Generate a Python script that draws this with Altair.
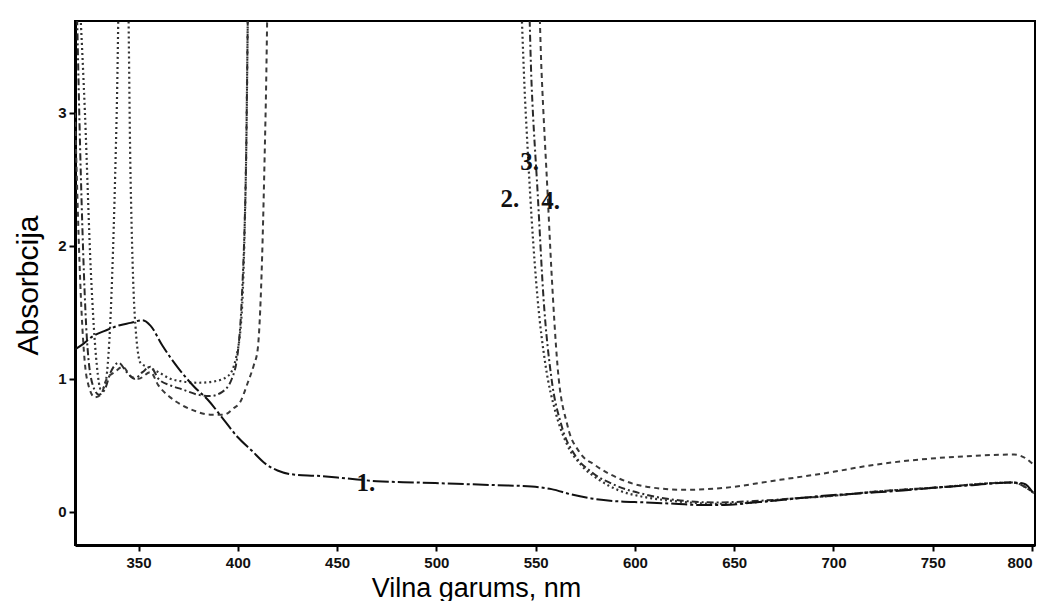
import altair as alt
import pandas as pd

# ---- data (wavelength nm, absorbance) ----
nm_1 = [318, 322, 327, 333, 340, 346, 352, 356, 362, 370, 378, 385, 392, 400, 407, 414, 420, 428,
        440, 455, 470, 490, 510, 530, 548, 558, 568, 578, 590, 605, 620, 635, 645, 660, 675, 695,
        715, 735, 750, 770, 790, 796, 801]
abs_1 = [1.22, 1.26, 1.32, 1.36, 1.40, 1.42, 1.44, 1.40, 1.25, 1.08, 0.94, 0.84, 0.71, 0.56, 0.46,
         0.36, 0.31, 0.28, 0.27, 0.25, 0.23, 0.22, 0.21, 0.20, 0.19, 0.17, 0.13, 0.10, 0.08, 0.07,
         0.06, 0.05, 0.05, 0.07, 0.09, 0.12, 0.14, 0.16, 0.18, 0.20, 0.22, 0.21, 0.13]

nm_2 = [318, 323, 326, 329, 331, 333, 336, 339, 341, 344, 346, 348, 351, 356, 360, 366, 372, 380,
        388, 395, 399, 402, 404, 406, 540, 545, 548, 551, 555, 560, 566, 573, 582, 592, 605, 620,
        640, 660, 680, 700, 720, 750, 790, 801]
abs_2 = [4.5, 3.0, 1.8, 1.1, 0.92, 0.95, 1.5, 3.0, 4.5, 4.5, 2.5, 1.5, 1.12, 1.08, 1.05, 1.0, 0.98,
         0.97, 0.98, 1.02, 1.15, 1.5, 2.5, 4.5, 4.5, 3.0, 2.2, 1.6, 1.1, 0.75, 0.5, 0.35, 0.24, 0.16,
         0.11, 0.08, 0.06, 0.07, 0.10, 0.12, 0.15, 0.18, 0.22, 0.14]

nm_3 = [318, 321, 324, 327, 330, 333, 336, 340, 344, 348, 352, 356, 360, 366, 372, 380, 386, 392,
        397, 400, 402, 404, 406, 545, 548, 551, 554, 558, 563, 570, 578, 590, 605, 620, 640, 660,
        680, 700, 720, 750, 790, 801]
abs_3 = [4.5, 2.5, 1.3, 0.95, 0.88, 0.92, 1.05, 1.12, 1.05, 1.0, 1.05, 1.09, 1.0, 0.95, 0.92, 0.88,
         0.87, 0.9, 1.0, 1.2, 1.6, 2.5, 4.5, 4.5, 3.2, 2.4, 1.6, 1.0, 0.65, 0.42, 0.3, 0.2, 0.13,
         0.09, 0.07, 0.08, 0.10, 0.12, 0.15, 0.18, 0.22, 0.14]

nm_4 = [318, 321, 324, 328, 331, 334, 338, 342, 346, 350, 356, 360, 366, 372, 378, 386, 393, 398,
        401, 405, 408, 410, 412, 414, 416, 550, 553, 556, 558, 561, 566, 572, 580, 592, 605, 625,
        645, 673, 700, 715, 749, 770, 791, 797, 801]
abs_4 = [3.0, 1.6, 1.0, 0.86, 0.88, 1.0, 1.05, 1.09, 1.02, 1.0, 1.05, 0.95, 0.86, 0.8, 0.76, 0.73,
         0.73, 0.78, 0.82, 0.97, 1.1, 1.22, 1.8, 3.0, 4.5, 4.5, 3.3, 2.4, 1.8, 1.1, 0.65, 0.45, 0.35,
         0.25, 0.19, 0.165, 0.18, 0.24, 0.30, 0.34, 0.40, 0.42, 0.43, 0.40, 0.35]

label_text = ["1.", "2.", "3.", "4."]
label_nm = [464.5, 537.0, 547.0, 557.5]
label_abs = [0.215, 2.35, 2.63, 2.34]

x_ticks = [350, 400, 450, 500, 550, 600, 650, 700, 750, 800]
y_ticks = [0, 1, 2, 3]

X_DOMAIN = [318, 801.5]
Y_DOMAIN = [-0.25, 3.69]

def frame(nm, ab):
    return pd.DataFrame({"nm": nm, "abs": ab, "i": list(range(len(nm)))})

x_enc = alt.X(
    "nm:Q",
    scale=alt.Scale(domain=X_DOMAIN, nice=False, zero=False),
    axis=alt.Axis(
        values=x_ticks, title="Vilna garums, nm", grid=False, labelFlush=6,
        labelFont="Liberation Sans", labelFontSize=15, labelFontWeight="bold", labelColor="#111",
        labelPadding=4, tickSize=6, tickWidth=2, tickColor="#000",
        domainColor="#000", domainWidth=3,
        titleFont="Liberation Sans", titleFontSize=27, titleFontWeight="normal", titleColor="#000",
        titleX=401, titleY=43, titleAlign="center", titleBaseline="middle", titleAnchor="start",
    ),
)
y_enc = alt.Y(
    "abs:Q",
    scale=alt.Scale(domain=Y_DOMAIN, nice=False, zero=False),
    axis=alt.Axis(
        values=y_ticks, title="Absorbcija", grid=False, format="d",
        labelFont="Liberation Sans", labelFontSize=15, labelFontWeight="bold", labelColor="#111",
        labelPadding=3, tickSize=6, tickWidth=2, tickColor="#000",
        domainColor="#000", domainWidth=3,
        titleFont="Liberation Sans", titleFontSize=30, titleFontWeight="normal", titleColor="#000",
        titleX=-47, titleY=264, titleAngle=270, titleAlign="center", titleBaseline="middle",
        titleAnchor="start",
    ),
)

def line(nm, ab, dash, color, width):
    return alt.Chart(frame(nm, ab)).mark_line(
        clip=True, strokeDash=dash, color=color, strokeWidth=width, interpolate="monotone"
    ).encode(x=x_enc, y=y_enc, order="i:Q")

l4 = line(nm_4, abs_4, [5, 4], "#3a3a3a", 2.0)
l3 = line(nm_3, abs_3, [7, 3, 2, 3], "#2a2a2a", 2.0)
l2 = line(nm_2, abs_2, [2, 3], "#333333", 2.2)
l1 = line(nm_1, abs_1, [16, 3, 3, 3], "#111111", 2.0)

labels = alt.Chart(pd.DataFrame({"t": label_text, "nm": label_nm, "abs": label_abs})).mark_text(
    font="Liberation Serif", fontSize=25, fontWeight="bold", color="#111",
    align="center", baseline="middle",
).encode(x=alt.X("nm:Q"), y=alt.Y("abs:Q"), text="t:N")

chart = alt.layer(l4, l3, l2, l1, labels).properties(
    width=960, height=524,
    autosize=alt.AutoSizeParams(type="none"),
    padding={"left": 67, "top": 13, "right": 2, "bottom": 56},
    background="white",
).configure_view(stroke="#000", strokeWidth=2)

chart.save("out.html", embed_options={"renderer": "svg", "actions": False})
